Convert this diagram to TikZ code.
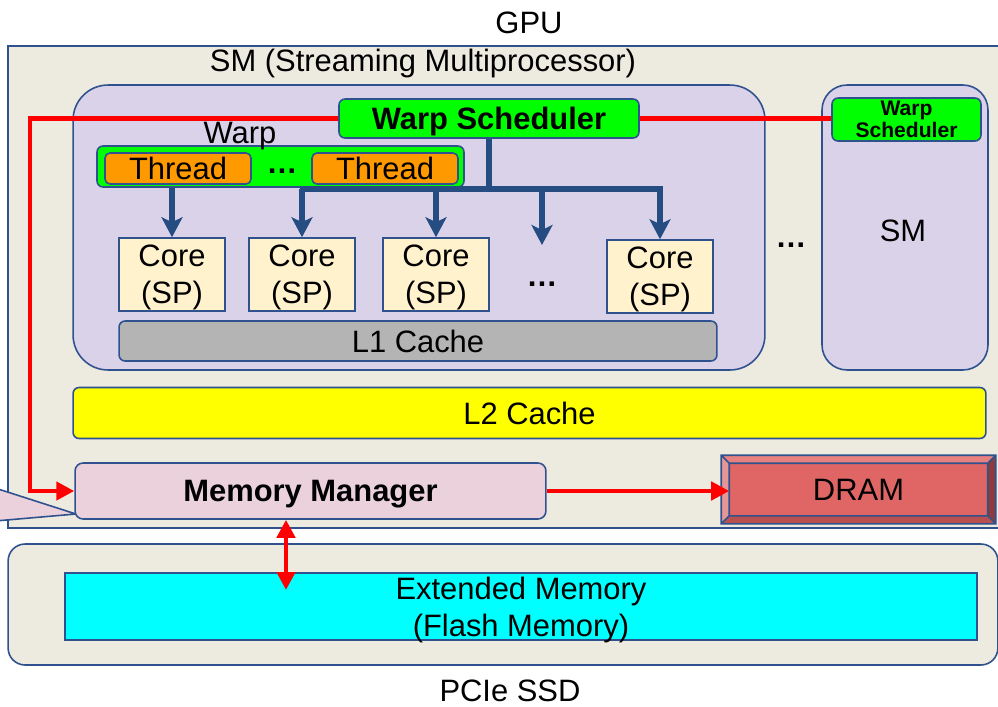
\documentclass[tikz,border=0pt]{standalone}
\usepackage{fontspec}
\setmainfont{Liberation Sans}
\usetikzlibrary{positioning, arrows.meta}

\definecolor{edgeblue}{RGB}{47,82,143}
\definecolor{busblue}{RGB}{37,77,130}
\definecolor{gpubg}{RGB}{237,234,224}
\definecolor{smbg}{RGB}{217,210,233}
\definecolor{schedgreen}{RGB}{0,255,0}
\definecolor{threadorange}{RGB}{255,153,0}
\definecolor{corebg}{RGB}{255,242,204}
\definecolor{lonegrey}{RGB}{180,180,180}
\definecolor{ltwoyellow}{RGB}{255,255,0}
\definecolor{mmpink}{RGB}{234,209,220}
\definecolor{dramred}{RGB}{224,102,102}
\definecolor{dramtop}{RGB}{232,128,128}
\definecolor{dramleft}{RGB}{230,150,150}
\definecolor{drambottom}{RGB}{184,80,80}
\definecolor{dramright}{RGB}{140,60,60}
\definecolor{extcyan}{RGB}{0,255,255}

\begin{document}
\begin{tikzpicture}[x=0.02cm, y=-0.02cm,
		box/.style={draw=edgeblue, line width=0.9pt, inner sep=0pt, align=center, text depth=0pt, font=\fontsize{17.6}{21}\selectfont},
		panel/.style={box, fill=gpubg},
		smbox/.style={box, fill=smbg, rounded corners=0.7cm},
		sched/.style={box, fill=schedgreen, rounded corners=0.12cm, font=\fontsize{17.6}{21}\selectfont\bfseries},
		thread/.style={box, fill=threadorange, rounded corners=0.1cm, minimum width=2.92cm, minimum height=0.62cm},
		core/.style={box, fill=corebg, minimum width=2.12cm, minimum height=1.46cm},
		cache/.style={box, rounded corners=0.12cm},
		plaintext/.style={font=\fontsize{17.6}{21}\selectfont, anchor=base, inner sep=0pt},
		dots/.style={plaintext, font=\fontsize{17.6}{21}\selectfont\bfseries},
		redline/.style={red, line width=2.8pt},
		redarrow/.style={redline, -{Triangle[length=0.36cm, width=0.36cm]}},
		reddouble/.style={redline, {Triangle[length=0.36cm, width=0.36cm]}-{Triangle[length=0.36cm, width=0.36cm]}},
		busline/.style={busblue, line width=3.2pt},
		busarrow/.style={busline, -{Stealth[length=0.4cm, width=0.42cm, inset=0.1cm]}}
		]
		% Canvas
		\useasboundingbox (0,0) rectangle (998,707);
		\clip (0,0) rectangle (998,707);
		\fill[white] (0,0) rectangle (998,707);
		% GPU and SSD panels
		\node[panel, minimum width=20.04cm, minimum height=9.64cm] (gpu) at (509,287) {};
		\node[panel, rounded corners=0.34cm, minimum width=19.8cm, minimum height=2.42cm] (ssd) at (503,604.5) {};
		\node[plaintext] (gpulabel) at (529,33) {GPU};
		\node[plaintext] (ssdlabel) at (510,701) {PCIe SSD};
		\node[plaintext] (smlabel) at (423,71) {SM (Streaming Multiprocessor)};
		% Streaming multiprocessors
		\node[smbox, minimum width=13.84cm, minimum height=5.7cm] (sm) at (419,227.5) {};
		\node[smbox, rounded corners=0.5cm, minimum width=3.32cm, minimum height=5.7cm] (sm2) at (905,227.5) {};
		\node[plaintext] (sm2label) at (903,241) {SM};
		\node[dots] (smdots) at (791,247) {\ldots};
		% Red control paths
		\coordinate (redturn) at (30,0);
		\coordinate (extend) at (286,590);
		% Schedulers
		\node[sched, minimum width=6cm, minimum height=0.78cm] (sched) at (489,118.5) {Warp Scheduler};
		\node[sched, font=\fontsize{12}{12.5}\selectfont\bfseries, minimum width=2.98cm, minimum height=0.86cm] (sched2) at (906.5,119.5) {Warp\\Scheduler};
		% Warp with its threads
		\node[box, fill=schedgreen, rounded corners=0.12cm, minimum width=7.34cm, minimum height=0.82cm] (warp) at (280.5,166.5) {};
		\node[plaintext] (warplabel) at (240,143) {Warp};
		\foreach \t/\x in {1/178, 2/385}
			\node[thread] (thread\t) at (\x,168.5) {Thread};
		\node[dots] (warpdots) at (282,173) {\ldots};
		% Cores
		\foreach \c/\x/\y in {1/172/274.5, 2/302/274.5, 3/436/274.5, 4/660/276.5}
			\node[core] (core\c) at (\x,\y) {Core\\(SP)};
		\node[dots] (coredots) at (542,286) {\ldots};
		\node[cache, fill=lonegrey, minimum width=11.96cm, minimum height=0.8cm] (l1) at (418,341) {L1 Cache};
		% Dispatch from scheduler to cores
		\coordinate (bus) at (300,189);
		\coordinate (dotsend) at (542,245);
		\draw[busline] (sched.south) -- (sched.south |- bus);
		\draw[busarrow] (bus) -| (core4.north);
		\foreach \c in {core2, core3, dotsend}
			\draw[busarrow] (\c |- bus) -- (\c);
		\draw[busarrow] (warp.south -| core1) -- (core1);
		% Caches and memory
		\node[cache, fill=ltwoyellow, minimum width=18.26cm, minimum height=1.02cm] (l2) at (529.5,413) {L2 Cache};
		\filldraw[fill=mmpink, draw=edgeblue, line width=0.9pt] (-5,488) -- (76,514) -- (-5,521);
		\node[cache, fill=mmpink, rounded corners=0.16cm, font=\fontsize{17.6}{21}\selectfont\bfseries, minimum width=9.42cm, minimum height=1.12cm] (mm) at (310.5,491) {Memory Manager};
		\node[box, fill=dramred, minimum width=5.46cm, minimum height=1.34cm] (dram) at (858.5,489.5) {DRAM};
		\path (dram.north west) ++(8,8) coordinate (dnw)
			(dram.north east) ++(-8,8) coordinate (dne)
			(dram.south east) ++(-8,-8) coordinate (dse)
			(dram.south west) ++(8,-8) coordinate (dsw);
		\fill[dramtop] (dram.north west) -- (dram.north east) -- (dne) -- (dnw) -- cycle;
		\fill[dramright] (dram.north east) -- (dram.south east) -- (dse) -- (dne) -- cycle;
		\fill[drambottom] (dram.south east) -- (dram.south west) -- (dsw) -- (dse) -- cycle;
		\fill[dramleft] (dram.south west) -- (dram.north west) -- (dnw) -- (dsw) -- cycle;
		\draw[edgeblue, line width=0.9pt] (dram.north west) rectangle (dram.south east) (dnw) rectangle (dse)
			(dram.north west) -- (dnw) (dram.north east) -- (dne) (dram.south east) -- (dse) (dram.south west) -- (dsw);
		\node[box, fill=extcyan, minimum width=18.24cm, minimum height=1.34cm] (ext) at (521,606.5) {Extended Memory\\(Flash Memory)};
		% Red connectors
		\draw[redarrow] (sched.west) -| (redturn |- mm.west) -- (mm.west);
		\draw[redline] (sched.east) -- (sched.east -| sched2.west);
		\draw[redarrow] (mm.east) -- (mm.east -| dnw);
		\draw[reddouble] (mm.south -| extend) -- (extend);
	\end{tikzpicture}
\end{document}
